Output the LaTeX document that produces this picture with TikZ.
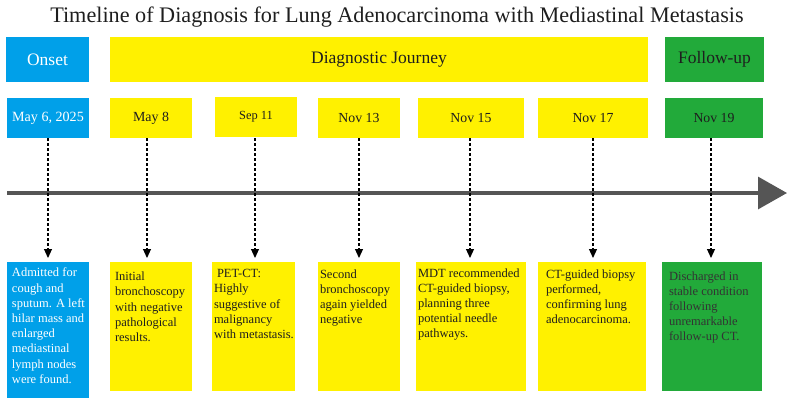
\documentclass[tikz,border=0pt]{standalone}
\usepackage{fontspec}
\setmainfont{Liberation Serif}
\usetikzlibrary{arrows.meta}
\definecolor{cblue}{HTML}{00A0E9}
\definecolor{cyellow}{HTML}{FFF100}
\definecolor{cgreen}{HTML}{22AA3A}
\definecolor{cgray}{HTML}{555555}
\definecolor{ctext}{HTML}{1E1E1E}
\begin{document}
\begin{tikzpicture}[x=1pt,y=-1pt,
  box/.style={draw=none,inner sep=0pt,outer sep=0pt,rectangle},
  hdr/.style={box,minimum height=45pt,font=\fontsize{17.5}{20}\selectfont},
  datebox/.style={box,minimum height=40pt},
  bodybox/.style={box,minimum height=129pt},
  body/.style={inner sep=0pt,outer sep=0pt,anchor=north west,align=left,font=\fontsize{12.5}{15.2}\selectfont,text=ctext},
  dasharrow/.style={line width=1.1pt,dash pattern=on 3pt off 2pt,-{Triangle[width=8pt,length=9pt]},shorten >=4pt},
  timeline/.style={line width=3.2pt,cgray,-{Triangle[width=32pt,length=29pt]}}
]
\useasboundingbox (0,0) rectangle (792,405);

% title
\node[inner sep=0pt,font=\fontsize{22.2}{26}\selectfont,text=ctext] (title) at (397,17) {Timeline of Diagnosis for Lung Adenocarcinoma with Mediastinal Metastasis};

% headers
\node[hdr,fill=cblue,text=white,minimum width=83pt] (h1) at (47.5,59.5) {Onset};
\node[hdr,fill=cyellow,text=ctext,minimum width=538pt] (h2) at (379,59.5) {Diagnostic Journey};
\node[hdr,fill=cgreen,text=ctext,minimum width=99pt] (h3) at (714.5,59.5) {Follow-up};

% timeline
\coordinate (tl0) at (7,193);
\coordinate (tl1) at (787,193);
\draw[timeline] (tl0) -- (tl1);

% date boxes
\node[datebox,fill=cblue,text=white,minimum width=82pt,font=\fontsize{14.1}{16}\selectfont] (d1) at (48,118) {May 6, 2025};
\node[datebox,fill=cyellow,text=ctext,minimum width=82pt,font=\fontsize{13.9}{16}\selectfont] (d2) at (151,118) {May 8};
\node[datebox,fill=cyellow,text=ctext,minimum width=82pt,font=\fontsize{12.4}{14}\selectfont] (d3) at (256,117) {Sep 11};
\node[datebox,fill=cyellow,text=ctext,minimum width=82pt,font=\fontsize{13.8}{16}\selectfont] (d4) at (359,118) {Nov 13};
\node[datebox,fill=cyellow,text=ctext,minimum width=106pt,font=\fontsize{13.8}{16}\selectfont] (d5) at (471,118) {Nov 15};
\node[datebox,fill=cyellow,text=ctext,minimum width=110pt,font=\fontsize{13.8}{16}\selectfont] (d6) at (593,118) {Nov 17};
\node[datebox,fill=cgreen,text=ctext,minimum width=98pt,font=\fontsize{13.8}{16}\selectfont] (d7) at (714,118) {Nov 19};

% bottom boxes
\node[bodybox,fill=cblue,minimum width=82pt,minimum height=136pt] (b1) at (48,330) {};
\node[bodybox,fill=cyellow,minimum width=82pt] (b2) at (151,326.5) {};
\node[bodybox,fill=cyellow,minimum width=83pt] (b3) at (253.5,326.5) {};
\node[bodybox,fill=cyellow,minimum width=82pt] (b4) at (359,326.5) {};
\node[bodybox,fill=cyellow,minimum width=110pt] (b5) at (471,326.5) {};
\node[bodybox,fill=cyellow,minimum width=108pt] (b6) at (592,326.5) {};
\node[bodybox,fill=cgreen,minimum width=100pt] (b7) at (712,326.5) {};

% body texts
\node[body,text=white] (t1) at (12,268) {Admitted for\\cough and\\sputum. A left\\hilar mass and\\enlarged\\mediastinal\\lymph nodes\\were found.};
\node[body] (t2) at (115,272) {Initial\\bronchoscopy\\with negative\\pathological\\results.};
\node[body] (t3) at (214,269.5) {\hspace*{3pt}PET-CT:\\Highly\\suggestive of\\malignancy\\with metastasis.};
\node[body] (t4) at (320,269.5) {Second\\bronchoscopy\\again yielded\\negative};
\node[body] (t5) at (418,268.5) {MDT recommended\\CT-guided biopsy,\\planning three\\potential needle\\pathways.};
\node[body] (t6) at (546,269.5) {CT-guided biopsy\\performed,\\confirming lung\\adenocarcinoma.};
\node[body,text=black!80] (t7) at (669,271.5) {Discharged in\\stable condition\\following\\unremarkable\\follow-up CT.};

% dashed connectors
\draw[dasharrow] (d1.south) -- (d1.south |- b1.north);
\draw[dasharrow] ([xshift=-4pt]d2.south) -- ([xshift=-4pt]d2.south |- b2.north);
\draw[dasharrow] ([xshift=-1pt]d3.south |- d2.south) -- ([xshift=-1pt]d3.south |- b3.north);
\draw[dasharrow] (d4.south) -- (d4.south |- b4.north);
\draw[dasharrow] ([xshift=-1pt]d5.south) -- ([xshift=-1pt]d5.south |- b5.north);
\draw[dasharrow] (d6.south) -- (d6.south |- b6.north);
\draw[dasharrow] ([xshift=-3pt]d7.south) -- ([xshift=-3pt]d7.south |- b7.north);
\end{tikzpicture}
\end{document}
